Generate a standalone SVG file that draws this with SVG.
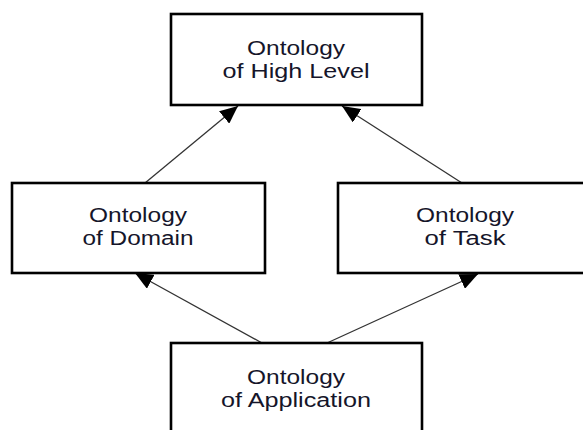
<svg xmlns="http://www.w3.org/2000/svg" width="583" height="430" viewBox="0 0 583 430">
  <style>
    .box { fill: #ffffff; stroke: #000000; stroke-width: 2.6; }
    .label { font-family: "Liberation Sans", Arial, sans-serif; font-size: 20px; fill: #15152a; text-anchor: middle; }
    .edge { stroke: #333333; stroke-width: 1.3; fill: none; marker-end: url(#arrow); }
  </style>
  <defs>
    <marker id="arrow" viewBox="0 0 18 16" refX="18" refY="8" markerWidth="18" markerHeight="16" markerUnits="userSpaceOnUse" orient="auto">
      <path d="M0,0 L18,8 L0,16 Z" fill="#000000"/>
    </marker>
  </defs>
  <rect width="583" height="430" fill="#ffffff"/>

  <g id="connectors">
    <line class="edge" x1="145" y1="183" x2="238" y2="106"/>
    <line class="edge" x1="462" y1="183" x2="342" y2="106"/>
    <line class="edge" x1="262" y1="343" x2="135" y2="273"/>
    <line class="edge" x1="327" y1="343" x2="478" y2="274"/>
  </g>

  <g id="high-level">
    <rect class="box" x="171" y="14" width="251" height="91"/>
    <text class="label" x="296" y="55" textLength="98" lengthAdjust="spacingAndGlyphs">Ontology</text>
    <text class="label" x="296" y="78" textLength="147" lengthAdjust="spacingAndGlyphs">of High Level</text>
  </g>

  <g id="domain">
    <rect class="box" x="12" y="183" width="253" height="90"/>
    <text class="label" x="138" y="222" textLength="98" lengthAdjust="spacingAndGlyphs">Ontology</text>
    <text class="label" x="138" y="245" textLength="111" lengthAdjust="spacingAndGlyphs">of Domain</text>
  </g>

  <g id="task">
    <rect class="box" x="338" y="183" width="260" height="90"/>
    <text class="label" x="465" y="222" textLength="98" lengthAdjust="spacingAndGlyphs">Ontology</text>
    <text class="label" x="465" y="245" textLength="81" lengthAdjust="spacingAndGlyphs">of Task</text>
  </g>

  <g id="application">
    <rect class="box" x="171" y="343" width="251" height="100"/>
    <text class="label" x="296" y="384" textLength="98" lengthAdjust="spacingAndGlyphs">Ontology</text>
    <text class="label" x="296" y="407" textLength="150" lengthAdjust="spacingAndGlyphs">of Application</text>
  </g>
</svg>
